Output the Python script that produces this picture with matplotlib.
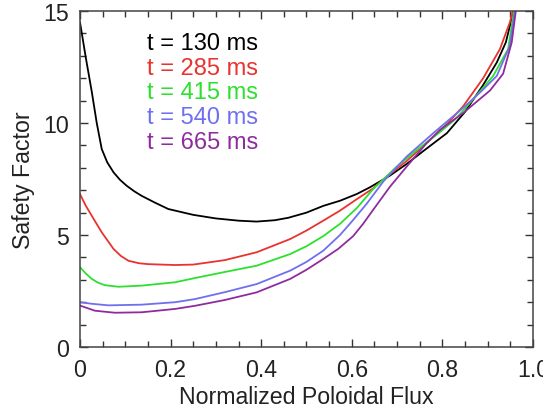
import matplotlib
matplotlib.use('Agg')
import matplotlib.pyplot as plt
from matplotlib.ticker import MultipleLocator

# q-profiles (x = normalized poloidal flux)
x_130 = [0.0, 0.013, 0.026, 0.037, 0.048, 0.06, 0.074, 0.088, 0.103, 0.12, 0.136, 0.165,
         0.195, 0.25, 0.30, 0.35, 0.39, 0.43, 0.46, 0.5, 0.537, 0.574, 0.611, 0.64,
         0.684, 0.721, 0.758, 0.81, 0.85, 0.89, 0.92, 0.94, 0.957]
q_130 = [14.5, 12.9, 11.4, 10.0, 8.84, 8.25, 7.8, 7.47, 7.2, 6.95, 6.75, 6.45,
         6.16, 5.9, 5.74, 5.64, 5.6, 5.66, 5.77, 6.0, 6.3, 6.53, 6.83, 7.13,
         7.65, 8.17, 8.75, 9.55, 10.5, 11.7, 12.7, 13.6, 15.0]

x_285 = [0.0, 0.013, 0.026, 0.048, 0.074, 0.09, 0.107, 0.13, 0.15, 0.21, 0.25, 0.32,
         0.39, 0.464, 0.5, 0.537, 0.574, 0.611, 0.647, 0.677, 0.721, 0.773, 0.81,
         0.846, 0.89, 0.927, 0.949, 0.955]
q_285 = [6.83, 6.3, 5.86, 5.12, 4.38, 4.07, 3.85, 3.74, 3.7, 3.66, 3.68, 3.88,
         4.23, 4.82, 5.2, 5.64, 6.09, 6.6, 7.08, 7.6, 8.3, 9.25, 9.95,
         10.75, 12.0, 13.3, 14.5, 15.0]

x_415 = [0.0, 0.013, 0.026, 0.04, 0.055, 0.085, 0.136, 0.21, 0.254, 0.32, 0.39, 0.464,
         0.5, 0.537, 0.574, 0.611, 0.647, 0.699, 0.75, 0.795, 0.83, 0.861, 0.912,
         0.945, 0.958]
q_415 = [3.56, 3.28, 3.04, 2.87, 2.76, 2.69, 2.74, 2.89, 3.08, 3.35, 3.63, 4.15,
         4.5, 4.95, 5.5, 6.2, 7.05, 8.05, 8.9, 9.6, 10.2, 10.9, 12.1,
         13.3, 15.0]

x_540 = [0.0, 0.026, 0.063, 0.136, 0.21, 0.254, 0.32, 0.39, 0.464, 0.5, 0.537, 0.574,
         0.6, 0.633, 0.67, 0.721, 0.78, 0.85, 0.885, 0.92, 0.949, 0.96]
q_540 = [2.0, 1.93, 1.86, 1.89, 2.0, 2.14, 2.45, 2.81, 3.41, 3.8, 4.3, 5.0,
         5.6, 6.4, 7.4, 8.5, 9.55, 10.75, 11.4, 12.1, 13.45, 15.0]

x_665 = [0.0, 0.033, 0.077, 0.136, 0.21, 0.254, 0.32, 0.39, 0.464, 0.5, 0.537, 0.57,
         0.603, 0.625, 0.647, 0.684, 0.721, 0.765, 0.795, 0.846, 0.905, 0.934,
         0.953, 0.962]
q_665 = [1.85, 1.62, 1.53, 1.55, 1.70, 1.84, 2.1, 2.44, 3.04, 3.45, 3.93, 4.38,
         4.95, 5.5, 6.12, 7.15, 8.05, 9.1, 9.7, 10.45, 11.45, 12.2,
         13.6, 15.0]

labels = ['t = 130 ms', 't = 285 ms', 't = 415 ms', 't = 540 ms', 't = 665 ms']
colors = ['#000000', '#e8332e', '#2ee02e', '#6f6ff0', '#8e2c9e']
series = [(x_130, q_130), (x_285, q_285), (x_415, q_415), (x_540, q_540), (x_665, q_665)]

plt.rcParams['font.family'] = ['Liberation Sans', 'DejaVu Sans']

fig = plt.figure(figsize=(5.43, 4.10), dpi=100)
ax = fig.add_axes([0.1473, 0.1512, 0.8343, 0.8195])

for (xs, qs), c in zip(series, colors):
    ax.plot(xs, qs, color=c, linewidth=1.3, solid_joinstyle='round')

# legend as coloured text lines
for i, (lab, c) in enumerate(zip(labels, colors)):
    ax.text(0.147, 0.905 - i * 0.0735, lab, color=c, fontsize=17,
            transform=ax.transAxes, va='center', ha='left')

ax.set_xlim(0, 1.0)
ax.set_ylim(0, 15)
ax.xaxis.set_minor_locator(MultipleLocator(0.05))
ax.yaxis.set_major_locator(MultipleLocator(5))
ax.yaxis.set_minor_locator(MultipleLocator(1))
ax.set_xticks([0, 0.2, 0.4, 0.6, 0.8, 1.0])
ax.set_xticklabels(['0', '0.2', '0.4', '0.6', '0.8', '1.0'])
ax.tick_params(which='both', direction='in', top=True, right=True, labelsize=16.7,
               color='#333333', labelcolor='#222222', width=1.0)
ax.tick_params(which='major', length=6, pad=8)
ax.tick_params(which='minor', length=4)
for spine in ax.spines.values():
    spine.set_edgecolor('#444444')
    spine.set_linewidth(1.1)

ax.set_xlabel('Normalized Poloidal Flux', fontsize=16.7, color='#222222', labelpad=3)
ax.set_ylabel('Safety Factor', fontsize=16.7, color='#222222', labelpad=6)

plt.savefig('out.png', dpi=100)
plt.close()
